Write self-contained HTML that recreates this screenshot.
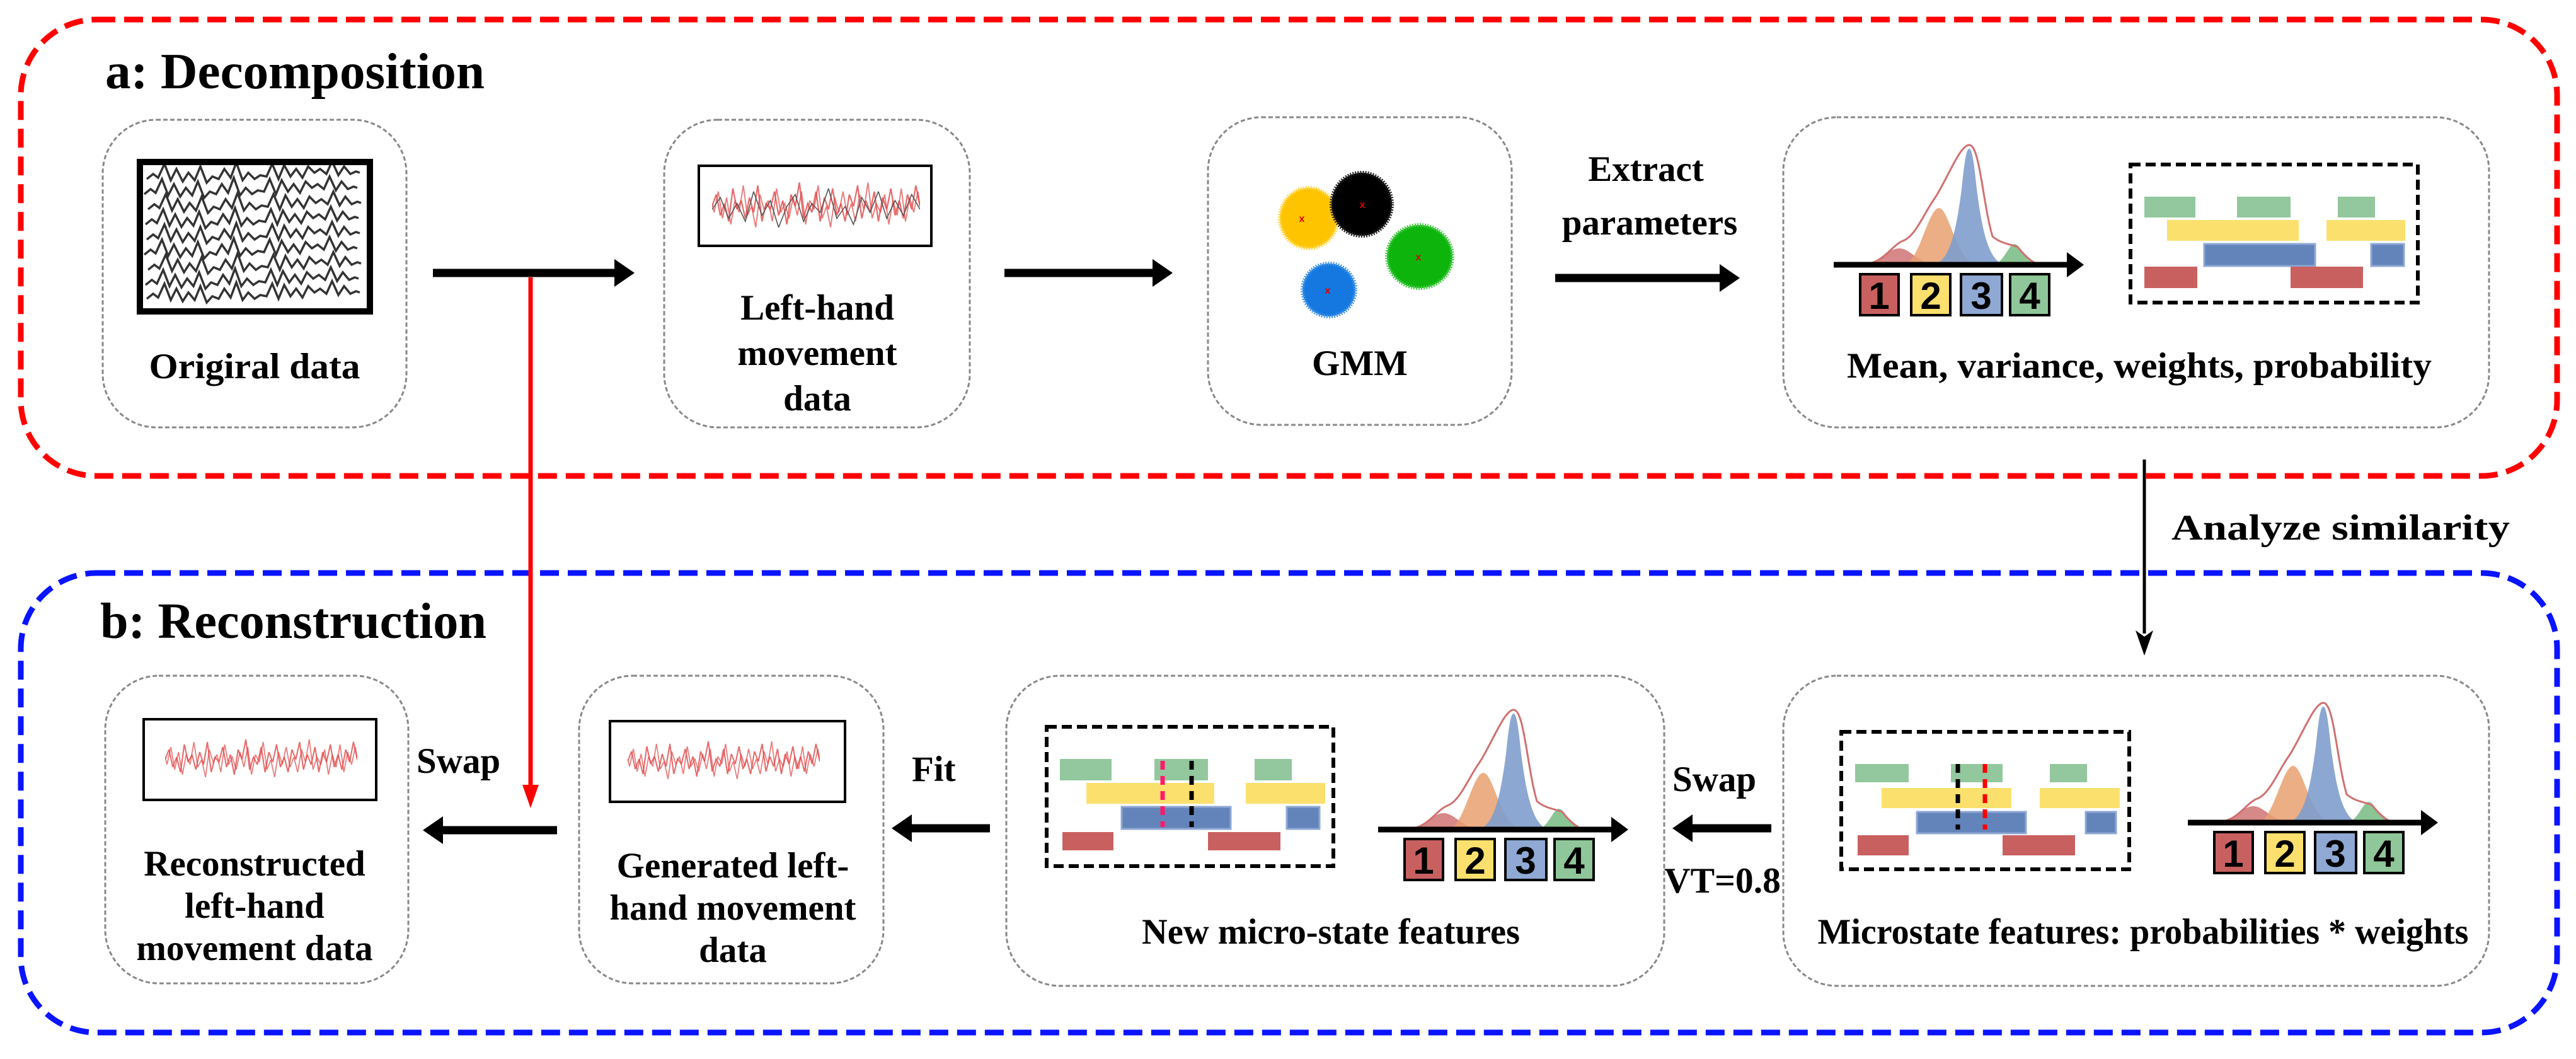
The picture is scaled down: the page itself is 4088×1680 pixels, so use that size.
<!DOCTYPE html>
<html><head><meta charset="utf-8"><style>html,body{margin:0;padding:0;background:#fff}svg{display:block}</style></head>
<body>
<svg width="4088" height="1680" viewBox="0 0 4088 1680" xmlns="http://www.w3.org/2000/svg" font-family="Liberation Serif, serif" font-weight="bold">
<defs>
  <g id="chart">
    <path d="M40,0 C75,0 85,-26 104,-26 C123,-26 133,0 170,0Z" fill="#c96060" fill-opacity="0.75"/>
    <path d="M110,0 C135,0 150,-90 167,-90 C184,-90 195,0 230,0Z" fill="#e8a070" fill-opacity="0.85"/>
    <path d="M155,0 C185,0 195,-60 203,-120 C208,-170 211,-184 215,-184 C219,-184 222,-170 227,-120 C235,-60 245,0 275,0Z" fill="#7f9dcc" fill-opacity="0.9"/>
    <path d="M250,0 C270,0 277,-33 287,-33 C297,-33 305,0 330,0Z" fill="#80bf8a" fill-opacity="0.9"/>
    <path d="M40,0 C80,0 90,-30 110,-38 C130,-45 145,-85 160,-105 C180,-135 200,-190 215,-190 C232,-190 236,-100 252,-45 C266,-33 280,-33 292,-28 C305,-12 318,0 330,0" fill="none" stroke="#d07070" stroke-width="3"/>
    <line x1="0" y1="0" x2="375" y2="0" stroke="#000" stroke-width="9"/>
    <path d="M370,-20 L397,0 L370,20Z" fill="#000"/>
    <rect x="42" y="15" width="61" height="65" fill="#c96060" stroke="#000" stroke-width="4"/>
    <rect x="123" y="15" width="62" height="65" fill="#fbe06e" stroke="#000" stroke-width="4"/>
    <rect x="202" y="15" width="65" height="65" fill="#8fa8d4" stroke="#000" stroke-width="4"/>
    <rect x="280" y="15" width="62" height="65" fill="#8fc79a" stroke="#000" stroke-width="4"/>
    <g font-family="Liberation Sans, sans-serif" font-size="60" text-anchor="middle" fill="#000">
      <text x="72" y="70">1</text><text x="154" y="70">2</text><text x="234" y="70">3</text><text x="311" y="70">4</text>
    </g>
  </g>
  <path id="eegrow" d="M0,0 l10,-8 8,6 10,-22 10,26 9,-18 10,20 9,-14 10,12 9,-22 10,26 9,-10 10,4 9,-16 10,14 9,-24 10,28 9,-12 10,10 9,-6 10,2 9,-20 10,24 9,-22 10,18 9,-12 10,14 9,-18 10,10 9,-6 10,8 9,-20 10,22 9,-14 10,12 9,-4 6,2" fill="none" stroke="#333" stroke-width="3.5"/>
  <path id="noise" d="M0,20 L2,12 4,26 6,18 8,30 10,8 12,22 14,16 16,28 18,14 20,24 22,6 24,30 26,18 28,22 30,10 32,26 34,16 36,32 38,12 40,20 42,4 44,28 46,18 48,24 50,10 52,30 54,14 56,22 58,8 60,26 62,18 64,30 66,12 68,20 70,6 72,28 74,16 76,24 78,10 80,30 82,14 84,22 86,8 88,26 90,16 92,28 94,12 96,22 98,6 100,20" fill="none" stroke="#e04848" stroke-width="0.7" stroke-opacity="0.8"/>
  <path id="noise2" d="M0,18 L1,24 3,10 5,28 7,14 9,32 11,16 13,24 15,6 17,26 19,20 21,34 23,12 25,22 27,16 29,30 31,8 33,24 35,18 37,28 39,14 41,26 43,10 45,32 47,16 49,22 51,6 53,28 55,20 57,34 59,14 61,24 63,10 65,26 67,18 69,30 71,12 73,22 75,4 77,28 79,18 81,24 83,12 85,32 87,16 89,26 91,8 93,30 95,14 97,24 99,10 100,20" fill="none" stroke="#e04848" stroke-width="0.6" stroke-opacity="0.7"/>
</defs>

<rect x="33" y="31" width="4025" height="724" rx="120" fill="none" stroke="#ff0000" stroke-width="9" stroke-dasharray="30,14"/>
<rect x="33" y="909" width="4025" height="729" rx="120" fill="none" stroke="#0a14ff" stroke-width="9" stroke-dasharray="30,14"/>

<text x="167" y="140" font-size="80" textLength="602" lengthAdjust="spacingAndGlyphs">a: Decomposition</text>
<text x="159" y="1012" font-size="80" textLength="613" lengthAdjust="spacingAndGlyphs">b: Reconstruction</text>

<g fill="none" stroke="#888" stroke-width="3" stroke-dasharray="7,4">
  <rect x="163" y="190" width="482" height="488" rx="85"/>
  <rect x="1054" y="190" width="485" height="488" rx="85"/>
  <rect x="1917" y="186" width="482" height="488" rx="85"/>
  <rect x="2830" y="186" width="1120" height="492" rx="85"/>
  <rect x="167" y="1072" width="481" height="488" rx="85"/>
  <rect x="919" y="1072" width="483" height="488" rx="85"/>
  <rect x="1597" y="1072" width="1044" height="492" rx="85"/>
  <rect x="2830" y="1072" width="1120" height="492" rx="85"/>
</g>

<rect x="222" y="257" width="365" height="237" fill="#fff" stroke="#000" stroke-width="10"/>
<svg x="227" y="262" width="355" height="227" overflow="hidden">
  <use href="#eegrow" x="6" y="22"/><use href="#eegrow" x="2" y="46"/><use href="#eegrow" x="8" y="70"/>
  <use href="#eegrow" x="4" y="94"/><use href="#eegrow" x="6" y="118"/><use href="#eegrow" x="2" y="142"/>
  <use href="#eegrow" x="8" y="166"/><use href="#eegrow" x="4" y="190"/><use href="#eegrow" x="6" y="212"/>
</svg>
<text x="404" y="600" font-size="57" text-anchor="middle" textLength="335" lengthAdjust="spacingAndGlyphs">Origiral  data</text>

<rect x="1109" y="263" width="369" height="127" fill="#fff" stroke="#000" stroke-width="4"/>
<svg x="1130" y="280" width="330" height="95" viewBox="0 0 100 40" preserveAspectRatio="none"><use href="#noise"/><use href="#noise2"/><path d="M0,22 L4,14 8,28 12,18 16,30 20,10 24,26 28,16 32,34 36,20 40,12 44,30 48,18 52,24 56,8 60,28 64,20 68,32 72,14 76,24 80,10 84,28 88,16 92,26 96,12 100,22" fill="none" stroke="#555" stroke-width="0.5"/></svg>
<g font-size="57" text-anchor="middle">
  <text x="1297" y="507">Left-hand</text><text x="1297" y="579">movement</text><text x="1297" y="651">data</text>
</g>

<ellipse cx="2077" cy="346" rx="46" ry="48" fill="#ffc400" stroke="#ffd84a" stroke-width="6" stroke-dasharray="2,2"/>
<ellipse cx="2161" cy="324" rx="48" ry="50" fill="#000" stroke="#222" stroke-width="6" stroke-dasharray="2,2"/>
<ellipse cx="2253" cy="407" rx="52" ry="50" fill="#0cb40c" stroke="#4ccc4c" stroke-width="6" stroke-dasharray="2,2"/>
<ellipse cx="2109" cy="460" rx="42" ry="42" fill="#1478e0" stroke="#4c9ae8" stroke-width="6" stroke-dasharray="2,2"/>
<g fill="#d00" font-family="Liberation Sans, sans-serif" font-size="16" text-anchor="middle"><text x="2066" y="352">x</text><text x="2162" y="330">x</text><text x="2251" y="413">x</text><text x="2107" y="466">x</text></g>
<text x="2158" y="595" font-size="57" text-anchor="middle">GMM</text>

<text x="2612" y="287" font-size="57" text-anchor="middle">Extract</text>
<text x="2618" y="372" font-size="57" text-anchor="middle">parameters</text>

<use href="#chart" x="2910" y="420"/>
<rect x="3381" y="261" width="456" height="219" fill="none" stroke="#000" stroke-width="6" stroke-dasharray="16,8"/>
<g>
  <rect x="3403" y="312" width="81" height="33" fill="#93c79e"/><rect x="3550" y="312" width="85" height="33" fill="#93c79e"/><rect x="3710" y="312" width="59" height="33" fill="#93c79e"/>
  <rect x="3439" y="349" width="209" height="33" fill="#fbe06e"/><rect x="3692" y="349" width="125" height="33" fill="#fbe06e"/>
  <rect x="3498" y="387" width="176" height="35" fill="#6384bb" stroke="#8fa8d4" stroke-width="3"/><rect x="3763" y="387" width="52" height="35" fill="#6384bb" stroke="#8fa8d4" stroke-width="3"/>
  <rect x="3403" y="423" width="84" height="34" fill="#c96060"/><rect x="3635" y="423" width="115" height="34" fill="#c96060"/>
</g>
<text x="3395" y="599" font-size="57" text-anchor="middle" textLength="928" lengthAdjust="spacingAndGlyphs">Mean, variance,  weights,  probability</text>

<line x1="687" y1="433" x2="980" y2="433" stroke="#000" stroke-width="13"/><path d="M975,411 L1007,433 L975,455Z"/>
<line x1="1594" y1="433" x2="1834" y2="433" stroke="#000" stroke-width="13"/><path d="M1829,411 L1861,433 L1829,455Z"/>
<line x1="2468" y1="441" x2="2734" y2="441" stroke="#000" stroke-width="13"/><path d="M2729,419 L2761,441 L2729,463Z"/>

<line x1="842" y1="440" x2="842" y2="1250" stroke="#f00" stroke-width="7"/>
<path d="M829,1245 L842,1282 L855,1245Z" fill="#f00"/>

<line x1="3403" y1="729" x2="3403" y2="1005" stroke="#000" stroke-width="5"/>
<path d="M3389,1000 L3403,1040 L3417,1000 L3403,1010Z" fill="#000"/>
<text x="3446" y="856" font-size="57" textLength="537" lengthAdjust="spacingAndGlyphs">Analyze similarity</text>

<rect x="228" y="1141" width="369" height="128" fill="#fff" stroke="#000" stroke-width="4"/>
<svg x="262" y="1165" width="305" height="80" viewBox="0 0 100 40" preserveAspectRatio="none"><use href="#noise"/><use href="#noise2"/></svg>
<g font-size="57" text-anchor="middle">
  <text x="404" y="1389">Reconstructed</text><text x="404" y="1456">left-hand</text><text x="404" y="1523">movement data</text>
</g>
<text x="661" y="1226" font-size="57">Swap</text>
<line x1="700" y1="1317" x2="884" y2="1317" stroke="#000" stroke-width="13"/><path d="M703,1295 L671,1317 L703,1339Z"/>

<rect x="968" y="1144" width="373" height="128" fill="#fff" stroke="#000" stroke-width="4"/>
<svg x="996" y="1168" width="305" height="80" viewBox="0 0 100 40" preserveAspectRatio="none"><use href="#noise"/><use href="#noise2"/></svg>
<g font-size="57" text-anchor="middle">
  <text x="1163" y="1392">Generated left-</text><text x="1163" y="1459">hand movement</text><text x="1163" y="1526">data</text>
</g>
<text x="1447" y="1239" font-size="57">Fit</text>
<line x1="1444" y1="1314" x2="1571" y2="1314" stroke="#000" stroke-width="13"/><path d="M1447,1292 L1415,1314 L1447,1336Z"/>

<rect x="1661" y="1153" width="455" height="221" fill="none" stroke="#000" stroke-width="6" stroke-dasharray="16,8"/>
<g>
  <rect x="1682" y="1204" width="82" height="34" fill="#93c79e"/><rect x="1832" y="1204" width="85" height="34" fill="#93c79e"/><rect x="1991" y="1204" width="59" height="34" fill="#93c79e"/>
  <rect x="1724" y="1242" width="203" height="33" fill="#fbe06e"/><rect x="1977" y="1242" width="126" height="33" fill="#fbe06e"/>
  <rect x="1780" y="1280" width="173" height="35" fill="#6384bb" stroke="#8fa8d4" stroke-width="3"/><rect x="2042" y="1280" width="52" height="35" fill="#6384bb" stroke="#8fa8d4" stroke-width="3"/>
  <rect x="1686" y="1320" width="81" height="29" fill="#c96060"/><rect x="1917" y="1320" width="115" height="29" fill="#c96060"/>
</g>
<line x1="1845" y1="1207" x2="1845" y2="1312" stroke="#ff1a6a" stroke-width="7" stroke-dasharray="14,10"/>
<line x1="1891" y1="1207" x2="1891" y2="1312" stroke="#000" stroke-width="7" stroke-dasharray="14,10"/>
<use href="#chart" x="2187" y="1316"/>
<text x="2112" y="1497" font-size="57" text-anchor="middle" textLength="600" lengthAdjust="spacingAndGlyphs">New micro-state features</text>

<text x="2654" y="1255" font-size="57">Swap</text>
<line x1="2683" y1="1314" x2="2811" y2="1314" stroke="#000" stroke-width="13"/><path d="M2686,1292 L2654,1314 L2686,1336Z"/>
<text x="2641" y="1416" font-size="57" textLength="185" lengthAdjust="spacingAndGlyphs">VT=0.8</text>

<rect x="2922" y="1161" width="457" height="218" fill="none" stroke="#000" stroke-width="6" stroke-dasharray="16,8"/>
<g>
  <rect x="2944" y="1212" width="85" height="29" fill="#93c79e"/><rect x="3096" y="1212" width="82" height="29" fill="#93c79e"/><rect x="3253" y="1212" width="59" height="29" fill="#93c79e"/>
  <rect x="2986" y="1250" width="206" height="32" fill="#fbe06e"/><rect x="3237" y="1250" width="127" height="32" fill="#fbe06e"/>
  <rect x="3042" y="1288" width="173" height="34" fill="#6384bb" stroke="#8fa8d4" stroke-width="3"/><rect x="3310" y="1288" width="48" height="34" fill="#6384bb" stroke="#8fa8d4" stroke-width="3"/>
  <rect x="2948" y="1325" width="81" height="32" fill="#c96060"/><rect x="3178" y="1325" width="115" height="32" fill="#c96060"/>
</g>
<line x1="3107" y1="1212" x2="3107" y2="1316" stroke="#000" stroke-width="7" stroke-dasharray="14,10"/>
<line x1="3150" y1="1212" x2="3150" y2="1316" stroke="#f00" stroke-width="7" stroke-dasharray="14,10"/>
<use href="#chart" x="3472" y="1305"/>
<text x="3401" y="1497" font-size="57" text-anchor="middle" textLength="1033" lengthAdjust="spacingAndGlyphs">Microstate features: probabilities * weights</text>
</svg>
</body></html>
